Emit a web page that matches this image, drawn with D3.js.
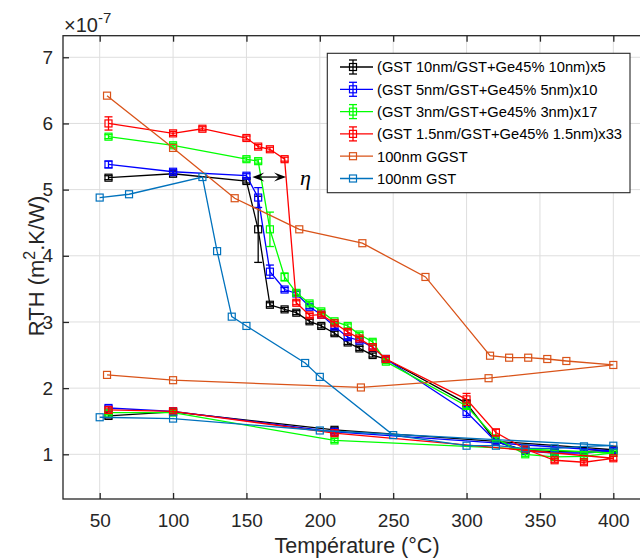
<!DOCTYPE html>
<html><head><meta charset="utf-8">
<script src="https://cdn.jsdelivr.net/npm/d3@7"></script>
<style>
body{margin:0;background:#fff}
svg{display:block;font-family:"Liberation Sans",Arial,Helvetica,sans-serif}
</style>
</head><body>
<svg id="chart" width="640" height="558"></svg>
<script>
// ---------- data ----------
const legendLabels = [
  "(GST 10nm/GST+Ge45% 10nm)x5",
  "(GST 5nm/GST+Ge45% 5nm)x10",
  "(GST 3nm/GST+Ge45% 3nm)x17",
  "(GST 1.5nm/GST+Ge45% 1.5nm)x33",
  "100nm GGST",
  "100nm GST"
];
const seriesColors = ["#000000","#0000ff","#00ff00","#ff0000","#d95319","#0072bd"];

// heating then cooling sequences (°C)
const tempBlack = [56,100,150,158,166,176,184,193,201,210,219,227,236,245,300,320,340,360,380,400,210,100,56];
const rthBlack  = [5.18,5.24,5.13,4.40,3.26,3.19,3.14,3.01,2.94,2.83,2.69,2.60,2.50,2.44,1.77,1.19,1.06,1.04,1.04,1.07,1.37,1.64,1.58];
const errBlack  = [0.03,0.03,0.03,0.50,0.03,0.03,0.03,0.03,0.03,0.03,0.03,0.03,0.03,0.03,0.04,0.03,0.03,0.03,0.03,0.03,0.03,0.03,0.03];

const tempBlue = [56,100,150,158,166,176,184,193,201,210,219,227,236,245,300,320,340,360,380,400,210,100,56];
const rthBlue  = [5.38,5.27,5.21,4.88,3.76,3.49,3.43,3.23,3.11,2.93,2.77,2.72,2.62,2.44,1.64,1.19,1.05,1.02,1.02,1.05,1.34,1.65,1.70];
const errBlue  = [0.05,0.03,0.03,0.15,0.10,0.03,0.03,0.03,0.03,0.03,0.03,0.03,0.03,0.03,0.08,0.03,0.03,0.03,0.03,0.03,0.03,0.03,0.03];

const tempGreen = [56,100,150,158,166,176,184,193,201,210,219,227,236,245,300,320,340,360,380,400,210,100,56];
const rthGreen  = [5.80,5.67,5.46,5.43,4.40,3.68,3.44,3.28,3.16,3.01,2.94,2.81,2.70,2.40,1.73,1.24,1.00,0.96,0.97,1.02,1.21,1.63,1.63];
const errGreen  = [0.03,0.03,0.03,0.03,0.26,0.06,0.03,0.03,0.03,0.03,0.03,0.03,0.03,0.03,0.04,0.03,0.03,0.03,0.03,0.03,0.03,0.03,0.03];

const tempRed = [56,100,120,150,158,166,176,184,193,201,210,219,227,236,245,300,320,340,360,380,400,210,100,56];
const rthRed  = [6.00,5.85,5.92,5.78,5.65,5.61,5.46,3.29,3.10,3.11,2.98,2.85,2.75,2.62,2.44,1.83,1.33,1.08,0.91,0.88,0.94,1.32,1.65,1.67];
const errRed  = [0.10,0.03,0.03,0.03,0.03,0.03,0.03,0.03,0.03,0.03,0.03,0.03,0.03,0.03,0.03,0.09,0.05,0.03,0.03,0.03,0.03,0.03,0.03,0.03];

const tempGGST = [55,100,142,186,229,272,316,329,342,355,368,400,315,228,100,55];
const rthGGST  = [6.42,5.63,4.87,4.40,4.19,3.68,2.49,2.46,2.46,2.44,2.41,2.35,2.15,2.01,2.12,2.20];

const tempGST = [50,70,120,130,140,150,190,200,250,300,320,340,360,380,400,200,100,50];
const rthGST  = [4.88,4.93,5.19,4.07,3.08,2.94,2.38,2.17,1.29,1.13,1.13,1.09,1.09,1.12,1.13,1.36,1.54,1.56];

const xTicks = [50,100,150,200,250,300,350,400];
const yTicks = [1,2,3,4,5,6,7];
const xLabel = "Température (°C)";
const etaArrow = {from: 154, to: 177, rth: 5.19, label: "η"};

// ---------- scales ----------
const svg = d3.select("#chart");
const L = 63, R = 650, T = 35.7, B = 499;
const x = d3.scaleLinear().domain([25, 425]).range([L, R]);
const y = d3.scaleLinear().domain([0.3245, 7.326]).range([B, T]);
const axisCol = "#262626";

// grid
const grid = svg.append("g");
grid.selectAll(".gx").data(xTicks).enter().append("line")
  .attr("x1", d => x(d)).attr("x2", d => x(d)).attr("y1", T).attr("y2", B)
  .attr("stroke", "#dedede").attr("stroke-width", 1);
grid.selectAll(".gy").data(yTicks).enter().append("line")
  .attr("y1", d => y(d)).attr("y2", d => y(d)).attr("x1", L).attr("x2", R)
  .attr("stroke", "#dedede").attr("stroke-width", 1);

// ---------- series ----------
const series = [
  {t: tempBlack, v: rthBlack, e: errBlack},
  {t: tempBlue, v: rthBlue, e: errBlue},
  {t: tempGreen, v: rthGreen, e: errGreen},
  {t: tempRed, v: rthRed, e: errRed},
  {t: tempGGST, v: rthGGST, e: null},
  {t: tempGST, v: rthGST, e: null}
].map((s, i) => ({...s, color: seriesColors[i], name: legendLabels[i],
  pts: s.t.map((tt, j) => ({t: tt, v: s.v[j], e: s.e ? s.e[j] : 0}))}));

const line = d3.line().x(d => x(d.t)).y(d => y(d.v));
const plot = svg.append("g");
const ms = 7, cap = 4;
series.forEach(s => {
  const g = plot.append("g");
  g.append("path").datum(s.pts).attr("d", line)
    .attr("fill", "none").attr("stroke", s.color).attr("stroke-width", 1.3);
  if (s.e) {
    const eb = g.selectAll(".eb").data(s.pts).enter().append("g");
    eb.append("line").attr("x1", d => x(d.t)).attr("x2", d => x(d.t))
      .attr("y1", d => y(d.v - d.e)).attr("y2", d => y(d.v + d.e))
      .attr("stroke", s.color).attr("stroke-width", 1.3);
    eb.append("line").attr("x1", d => x(d.t) - cap).attr("x2", d => x(d.t) + cap)
      .attr("y1", d => y(d.v - d.e)).attr("y2", d => y(d.v - d.e))
      .attr("stroke", s.color).attr("stroke-width", 1.3);
    eb.append("line").attr("x1", d => x(d.t) - cap).attr("x2", d => x(d.t) + cap)
      .attr("y1", d => y(d.v + d.e)).attr("y2", d => y(d.v + d.e))
      .attr("stroke", s.color).attr("stroke-width", 1.3);
  }
  g.selectAll(".mk").data(s.pts).enter().append("rect")
    .attr("x", d => x(d.t) - ms / 2).attr("y", d => y(d.v) - ms / 2)
    .attr("width", ms).attr("height", ms)
    .attr("fill", "none").attr("stroke", s.color).attr("stroke-width", 1.2);
});

// ---------- eta double arrow ----------
(function () {
  const ax1 = x(etaArrow.from), ax2 = x(etaArrow.to), ay = y(etaArrow.rth);
  const g = svg.append("g");
  g.append("line").attr("x1", ax1 + 6).attr("x2", ax2 - 6).attr("y1", ay).attr("y2", ay)
    .attr("stroke", "#000").attr("stroke-width", 1.3);
  const hl = 12, hw = 4.5;
  g.append("path").attr("d", `M${ax1},${ay} L${ax1 + hl},${ay - hw} L${ax1 + hl * 0.6},${ay} L${ax1 + hl},${ay + hw} Z`).attr("fill", "#000");
  g.append("path").attr("d", `M${ax2},${ay} L${ax2 - hl},${ay - hw} L${ax2 - hl * 0.6},${ay} L${ax2 - hl},${ay + hw} Z`).attr("fill", "#000");
  g.append("text").attr("x", ax2 + 14).attr("y", ay + 8)
    .attr("font-family", "'Liberation Serif','DejaVu Serif',serif").attr("font-style", "italic")
    .attr("font-size", 22).attr("fill", "#000").text(etaArrow.label);
})();

// ---------- axes ----------
const xAxis = svg.append("g").attr("transform", `translate(0,${B})`)
  .call(d3.axisBottom(x).tickValues(xTicks).tickSize(-6).tickPadding(15).tickFormat(d3.format("d")));
const yAxis = svg.append("g").attr("transform", `translate(${L},0)`)
  .call(d3.axisLeft(y).tickValues(yTicks).tickSize(-6).tickPadding(10).tickFormat(d3.format("d")));
const xTop = svg.append("g").attr("transform", `translate(0,${T})`)
  .call(d3.axisTop(x).tickValues(xTicks).tickSize(-6).tickFormat(""));
const yRight = svg.append("g").attr("transform", `translate(${R},0)`)
  .call(d3.axisRight(y).tickValues(yTicks).tickSize(-6).tickFormat(""));
[xAxis, yAxis, xTop, yRight].forEach(a => {
  a.select(".domain").remove();
  a.selectAll("line").attr("stroke", axisCol).attr("stroke-width", 1.3);
  a.selectAll("text").attr("fill", axisCol).attr("font-size", 19)
    .attr("font-family", "'Liberation Sans',Arial,sans-serif");
});
svg.append("rect").attr("x", L).attr("y", T).attr("width", R - L).attr("height", B - T)
  .attr("fill", "none").attr("stroke", axisCol).attr("stroke-width", 1.3);

// exponent
const ex = svg.append("text").attr("x", 64).attr("y", 32).attr("fill", axisCol).attr("font-size", 20);
ex.append("tspan").text("×10");
ex.append("tspan").attr("font-size", 15).attr("dy", -9).text("-7");

// axis labels
svg.append("text").attr("x", 357).attr("y", 553).attr("text-anchor", "middle")
  .attr("fill", axisCol).attr("font-size", 21.5).text(xLabel);
const yl = svg.append("text").attr("transform", "translate(44,266) rotate(-90)")
  .attr("text-anchor", "middle").attr("fill", axisCol).attr("font-size", 22);
yl.append("tspan").text("RTH (m");
yl.append("tspan").attr("font-size", 16).attr("dy", -9).text("2");
yl.append("tspan").attr("dy", 9).text(".K/W)");

// ---------- legend ----------
const lg = svg.append("g");
lg.append("rect").attr("x", 327.3).attr("y", 53.3).attr("width", 302.7).attr("height", 139.4)
  .attr("fill", "#fff").attr("stroke", axisCol).attr("stroke-width", 1.1);
series.forEach((s, i) => {
  const cy = 67 + i * 22.3;
  const g = lg.append("g");
  g.append("line").attr("x1", 340).attr("x2", 373).attr("y1", cy).attr("y2", cy)
    .attr("stroke", s.color).attr("stroke-width", 1.3);
  if (s.e) {
    g.append("line").attr("x1", 353).attr("x2", 353).attr("y1", cy - 7).attr("y2", cy + 7)
      .attr("stroke", s.color).attr("stroke-width", 1.3);
    [cy - 7, cy + 7].forEach(yy => g.append("line").attr("x1", 349).attr("x2", 357)
      .attr("y1", yy).attr("y2", yy).attr("stroke", s.color).attr("stroke-width", 1.3));
  }
  g.append("rect").attr("x", 353 - 3.5).attr("y", cy - 3.5).attr("width", 7).attr("height", 7)
    .attr("fill", "none").attr("stroke", s.color).attr("stroke-width", 1.2);
  g.append("text").attr("x", 377).attr("y", cy + 5.3).attr("font-size", 14.7)
    .attr("fill", "#000").text(s.name);
});
</script>
</body></html>
